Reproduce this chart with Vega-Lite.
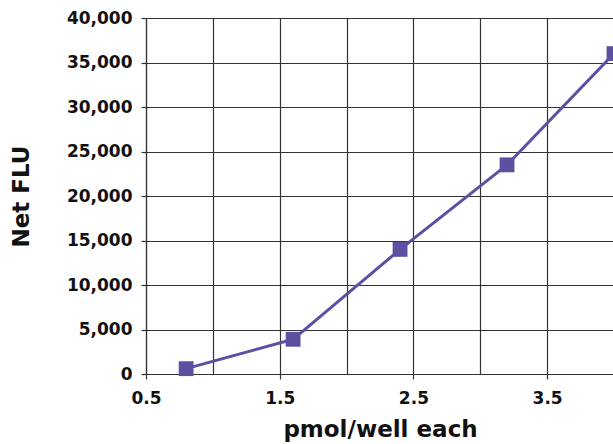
{
  "$schema": "https://vega.github.io/schema/vega-lite/v6.json",
  "width": 468,
  "height": 356,
  "autosize": "none",
  "padding": {"left": 146, "top": 18, "right": 0, "bottom": 70},
  "background": "white",
  "config": {
    "view": {"stroke": null},
    "font": "DejaVu Sans",
    "axis": {
      "labelFont": "DejaVu Sans",
      "labelFontWeight": "bold",
      "labelFontSize": 17,
      "labelColor": "#111",
      "titleFont": "DejaVu Sans",
      "titleFontWeight": "bold",
      "titleFontSize": 23,
      "titleColor": "#111",
      "gridColor": "#333",
      "gridOpacity": 1,
      "gridWidth": 1.2,
      "domainColor": "#333",
      "domainWidth": 1.2,
      "tickColor": "#333",
      "tickSize": 5,
      "tickWidth": 1.2
    }
  },
  "data": {
    "values": [
      {"pmol": 0.8, "flu": 600},
      {"pmol": 1.6, "flu": 3900},
      {"pmol": 2.4, "flu": 14000},
      {"pmol": 3.2, "flu": 23500},
      {"pmol": 4.0, "flu": 36000}
    ]
  },
  "encoding": {
    "x": {
      "field": "pmol",
      "type": "quantitative",
      "title": "pmol/well each",
      "scale": {"domain": [0.5, 4.0], "nice": false, "zero": false},
      "axis": {
        "values": [0.5, 1, 1.5, 2, 2.5, 3, 3.5, 4],
        "labelExpr": "(datum.value * 2) % 2 == 1 ? format(datum.value, '.1f') : ''",
        "tickOpacity": {"condition": {"test": "(datum.value * 2) % 2 == 1", "value": 1}, "value": 0},
        "labelFlush": false,
        "labelPadding": 11,
        "titlePadding": 12
      }
    },
    "y": {
      "field": "flu",
      "type": "quantitative",
      "title": "Net FLU",
      "scale": {"domain": [0, 40000], "nice": false},
      "axis": {
        "values": [0, 5000, 10000, 15000, 20000, 25000, 30000, 35000, 40000],
        "format": ",d",
        "labelFlush": false,
        "labelPadding": 9,
        "titlePadding": 33
      }
    }
  },
  "layer": [
    {
      "mark": {"type": "line", "color": "#5b50a2", "strokeWidth": 3}
    },
    {
      "mark": {"type": "point", "shape": "square", "filled": true, "opacity": 1, "color": "#5b50a2", "size": 220}
    }
  ]
}
